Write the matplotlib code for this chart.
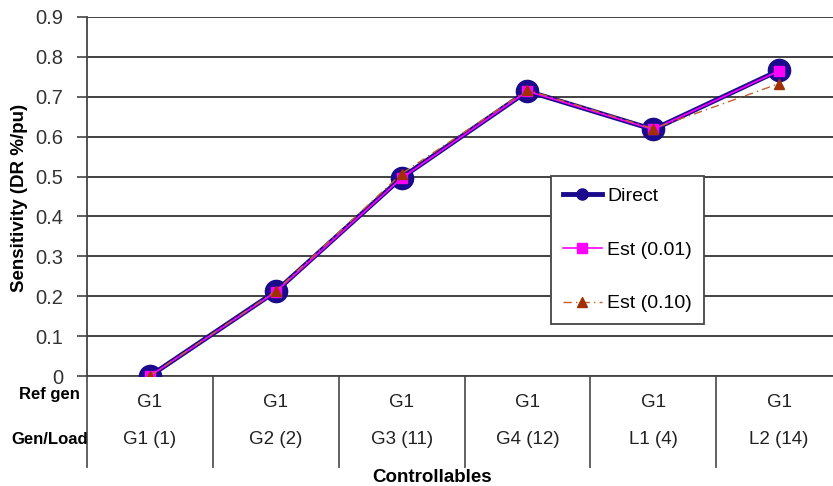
import numpy as np
import matplotlib
matplotlib.use("Agg")
from matplotlib import pyplot as plt
import matplotlib.transforms as mtransforms

plt.rcParams['font.family'] = ['Liberation Sans', 'DejaVu Sans']

# data
ref_gen = ["G1", "G1", "G1", "G1", "G1", "G1"]
gen_load = ["G1 (1)", "G2 (2)", "G3 (11)", "G4 (12)", "L1 (4)", "L2 (14)"]
direct = [0.0, 0.212, 0.497, 0.714, 0.618, 0.766]
est_001 = [0.0, 0.211, 0.496, 0.714, 0.618, 0.765]
est_010 = [0.0, 0.213, 0.507, 0.717, 0.620, 0.733]

fig = plt.figure(figsize=(8.33, 4.86), dpi=100)
ax = fig.add_axes([87/833, 1-376/486, 755/833, 359/486])

x = np.arange(len(gen_load))
ax.plot(x, direct, color="#1a0a8c", lw=3.5, marker="o", ms=16, label="Direct", zorder=3)
ax.plot(x, est_001, color="#ff00ff", lw=1.2, marker="s", ms=6.5, label="Est (0.01)", zorder=4)
ax.plot(x, est_010, color="#c0602a", lw=1.0, ls=(0, (6, 3, 1, 3)), marker="^",
        ms=6.5, mfc="#a03000", mec="#a03000", label="Est (0.10)", zorder=5)

ax.set_xlim(-0.5, 5.5)
ax.set_ylim(0, 0.9)
ax.set_yticks(np.arange(0, 0.91, 0.1))
ax.set_yticklabels(["0"] + [f"{v:.1f}" for v in np.arange(0.1, 0.91, 0.1)])
ax.set_xticks([])
ax.tick_params(axis="y", labelsize=14.5, length=7, width=1.2, pad=10,
               color="#444444", labelcolor="#333333")
ax.yaxis.grid(True, color="#333333", lw=1.3)
ax.set_axisbelow(True)
for s in ["top", "right"]:
    ax.spines[s].set_visible(False)
ax.spines["left"].set_color("#444444")
ax.spines["left"].set_linewidth(1.3)
ax.spines["bottom"].set_color("#444444")
ax.spines["bottom"].set_linewidth(1.3)

# table under the axis
trans = mtransforms.blended_transform_factory(ax.transData, ax.transAxes)
for xs in np.arange(-0.5, 5.0, 1.0):
    ax.plot([xs, xs], [0, -0.2535], transform=trans, color="#555555", lw=1.3, clip_on=False)
for i in x:
    ax.text(i, -0.075, ref_gen[i], transform=trans, ha="center", va="center", fontsize=13.5, color="#222222")
    ax.text(i, -0.178, gen_load[i], transform=trans, ha="center", va="center", fontsize=13.5, color="#222222")

fig.text(80/833, 1-394/486, "Ref gen", ha="right", va="center", fontsize=12, fontweight="bold")
fig.text(88/833, 1-439/486, "Gen/Load", ha="right", va="center", fontsize=12, fontweight="bold")
fig.text(432/833, 1-477/486, "Controllables", ha="center", va="center", fontsize=13.5, fontweight="bold")
fig.text(20/833, 1-198/486, "Sensitivity (DR %/pu)", rotation=90, ha="center", va="center",
         fontsize=13.5, fontweight="bold")

leg = fig.legend(loc="upper left", bbox_to_anchor=(551/833, 1-176/486), fontsize=14,
                 labelspacing=1.85, handlelength=2.0, fancybox=False, framealpha=1,
                 edgecolor="#444444", borderpad=0.6, borderaxespad=0, handletextpad=0.3)
leg.get_frame().set_linewidth(1.3)
leg.legend_handles[0].set_markersize(8)

fig.savefig("out.png", dpi=100)
